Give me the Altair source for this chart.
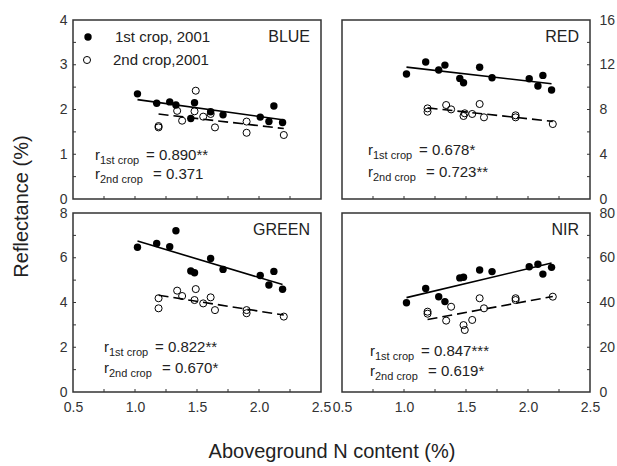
import altair as alt
import pandas as pd

FONT = "Liberation Sans"
W, H = 248, 179

# N content (x) for each crop
x_1st = [1.02, 1.175, 1.28, 1.33, 1.45, 1.48, 1.61, 1.71, 2.01, 2.08, 2.12, 2.19]
x_2nd = [1.19, 1.19, 1.34, 1.38, 1.48, 1.49, 1.55, 1.61, 1.645, 1.90, 1.90, 2.20]

blue_1st = [2.35, 2.14, 2.17, 2.10, 1.80, 2.15, 1.95, 1.88, 1.83, 1.73, 2.08, 1.71]
blue_2nd = [1.60, 1.63, 1.97, 1.75, 1.96, 2.42, 1.84, 1.90, 1.60, 1.48, 1.73, 1.43]
red_1st = [11.17, 12.24, 11.53, 11.97, 10.78, 10.39, 11.77, 10.84, 10.75, 10.10, 11.05, 9.74]
red_2nd = [7.80, 8.10, 8.40, 8.01, 7.42, 7.66, 7.60, 8.49, 7.30, 7.30, 7.48, 6.70]
green_1st = [6.47, 6.64, 6.49, 7.21, 5.41, 5.33, 5.97, 5.48, 5.21, 4.78, 5.39, 4.59]
green_2nd = [4.19, 3.74, 4.53, 4.29, 4.11, 4.60, 3.96, 4.23, 3.66, 3.66, 3.52, 3.37]
nir_1st = [39.9, 46.3, 42.6, 40.4, 51.0, 51.3, 54.5, 53.8, 56.0, 57.1, 52.7, 55.7]
nir_2nd = [35.9, 35.0, 31.9, 38.1, 29.9, 27.7, 32.2, 41.9, 37.4, 41.9, 41.1, 42.6]

x_labels = [0.5, 1.0, 1.5, 2.0, 2.5]
x_minor = [0.75, 1.0, 1.25, 1.5, 1.75, 2.0, 2.25]


def txt(s, px, py, size, align="left", baseline="alphabetic", color="#222"):
    return alt.Chart(pd.DataFrame({"t": [s]})).mark_text(
        align=align, baseline=baseline, fontSize=size, font=FONT, color=color
    ).encode(x=alt.value(px), y=alt.value(py), text="t:N")


def panel(name, y1, y2, ymax, ylabels, yminor, side, bottom, r1, r2, ann, ytitle=None, xtitle=None, legend=False):
    df = pd.DataFrame({
        "x": x_1st + x_2nd,
        "y": y1 + y2,
        "crop": ["1st"] * len(x_1st) + ["2nd"] * len(x_2nd),
    })
    xscale = alt.Scale(domain=[0.5, 2.5], nice=False, zero=False)
    yscale = alt.Scale(domain=[0, ymax], nice=False)
    if bottom:
        xaxis_kw = dict(values=x_labels, format=".1f", domain=False, ticks=False, tickSize=0,
                        grid=False, labelFont=FONT, labelFontSize=14, labelColor="#333",
                        labelPadding=8, labelOverlap=False, labelFlush=False, labelBound=False)
        if xtitle:
            xaxis_kw.update(title=xtitle, titleFont=FONT, titleFontSize=20, titleFontWeight="normal",
                            titleColor="#222", titleX=W + 10.5, titleY=65,
                            titleBaseline="alphabetic", titleAlign="center")
        else:
            xaxis_kw.update(title=None)
        xaxis = alt.Axis(**xaxis_kw)
    else:
        xaxis = None
    yaxis_kw = dict(values=ylabels, format="d", orient=side, domain=False, ticks=False, tickSize=0,
                    grid=False, labelFont=FONT, labelFontSize=14, labelColor="#333",
                    labelPadding=6 if side == "left" else 9, labelOverlap=False,
                    labelFlush=False, labelBound=False)
    if ytitle:
        yaxis_kw.update(title=ytitle, titleFont=FONT, titleFontSize=20, titleFontWeight="normal",
                        titleColor="#222", titleX=-46, titleY=H + 7, titleAngle=270,
                        titleBaseline="alphabetic", titleAlign="center")
    else:
        yaxis_kw.update(title=None)
    X = alt.X("x:Q", scale=xscale, axis=xaxis)
    Y = alt.Y("y:Q", scale=yscale, axis=alt.Axis(**yaxis_kw))

    base = alt.Chart(df)
    filled = base.transform_filter(alt.datum.crop == "1st").mark_point(
        shape="circle", filled=True, size=55, color="black", opacity=1).encode(x=X, y=Y)
    hollow = base.transform_filter(alt.datum.crop == "2nd").mark_point(
        shape="circle", filled=False, size=50, color="black", strokeWidth=1, opacity=1).encode(x=X, y=Y)
    line1 = base.transform_filter(alt.datum.crop == "1st").transform_regression("x", "y").mark_line(
        color="black", strokeWidth=1.6).encode(x=X, y=Y)
    line2 = base.transform_filter(alt.datum.crop == "2nd").transform_regression("x", "y").mark_line(
        color="black", strokeWidth=1.6, strokeDash=[10, 5]).encode(x=X, y=Y)

    xt = alt.Chart(pd.DataFrame({"x": x_minor})).mark_rule(color="#333", strokeWidth=1).encode(
        x=X, y=alt.value(H), y2=alt.value(H - 3))
    if side == "left":
        yt = alt.Chart(pd.DataFrame({"y": yminor})).mark_rule(color="#333", strokeWidth=1).encode(
            y=Y, x=alt.value(0), x2=alt.value(3))
    else:
        yt = alt.Chart(pd.DataFrame({"y": yminor})).mark_rule(color="#333", strokeWidth=1).encode(
            y=Y, x=alt.value(W), x2=alt.value(W - 3))

    rx, b1, b2 = ann
    layers = [filled, hollow, line1, line2, xt, yt,
              txt(name, 237, 22, 16, align="right"),
              txt("r", rx, b1, 15), txt("1st crop", rx + 5, b1 + 4, 11), txt("= " + r1, rx + 51, b1, 15),
              txt("r", rx, b2, 15), txt("2nd crop", rx + 5, b2 + 4, 11), txt("= " + r2, rx + 58, b2, 15)]
    if legend:
        sym = pd.DataFrame({"a": [0]})
        layers += [
            alt.Chart(sym).mark_point(shape="circle", filled=True, size=55, color="black", opacity=1).encode(
                x=alt.value(15), y=alt.value(17)),
            alt.Chart(sym).mark_point(shape="circle", filled=False, size=50, color="black", strokeWidth=1,
                                      opacity=1).encode(x=alt.value(14), y=alt.value(40)),
            txt("1st crop, 2001", 42, 17, 15, baseline="middle"),
            txt("2nd crop,2001", 40, 40, 15, baseline="middle"),
        ]
    return alt.layer(*layers).properties(width=W, height=H)


p_blue = panel("BLUE", blue_1st, blue_2nd, 4, [0, 1, 2, 3, 4], [0.5, 1, 1.5, 2, 2.5, 3, 3.5], "left", False,
               "0.890**", "0.371", (22, 140, 159), ytitle="Reflectance (%)", legend=True)
p_red = panel("RED", red_1st, red_2nd, 16, [0, 4, 8, 12, 16], [2, 4, 6, 8, 10, 12, 14], "right", False,
              "0.678*", "0.723**", (26, 135, 157))
p_green = panel("GREEN", green_1st, green_2nd, 8, [0, 2, 4, 6, 8], [1, 2, 3, 4, 5, 6, 7], "left", True,
                "0.822**", "0.670*", (31, 139, 160), xtitle="Aboveground N content (%)")
p_nir = panel("NIR", nir_1st, nir_2nd, 80, [0, 20, 40, 60, 80], [10, 20, 30, 40, 50, 60, 70], "right", True,
              "0.847***", "0.619*", (28, 143, 163))

chart = alt.concat(p_blue, p_red, p_green, p_nir, columns=2,
                   spacing={"row": 14, "column": 21}, bounds="flush").properties(
    padding={"left": 10, "top": 12, "right": 0, "bottom": 0},
    background="white",
).configure_view(stroke="#333", strokeWidth=1.5)

chart.save("out.html", embed_options={"renderer": "svg", "actions": False})
